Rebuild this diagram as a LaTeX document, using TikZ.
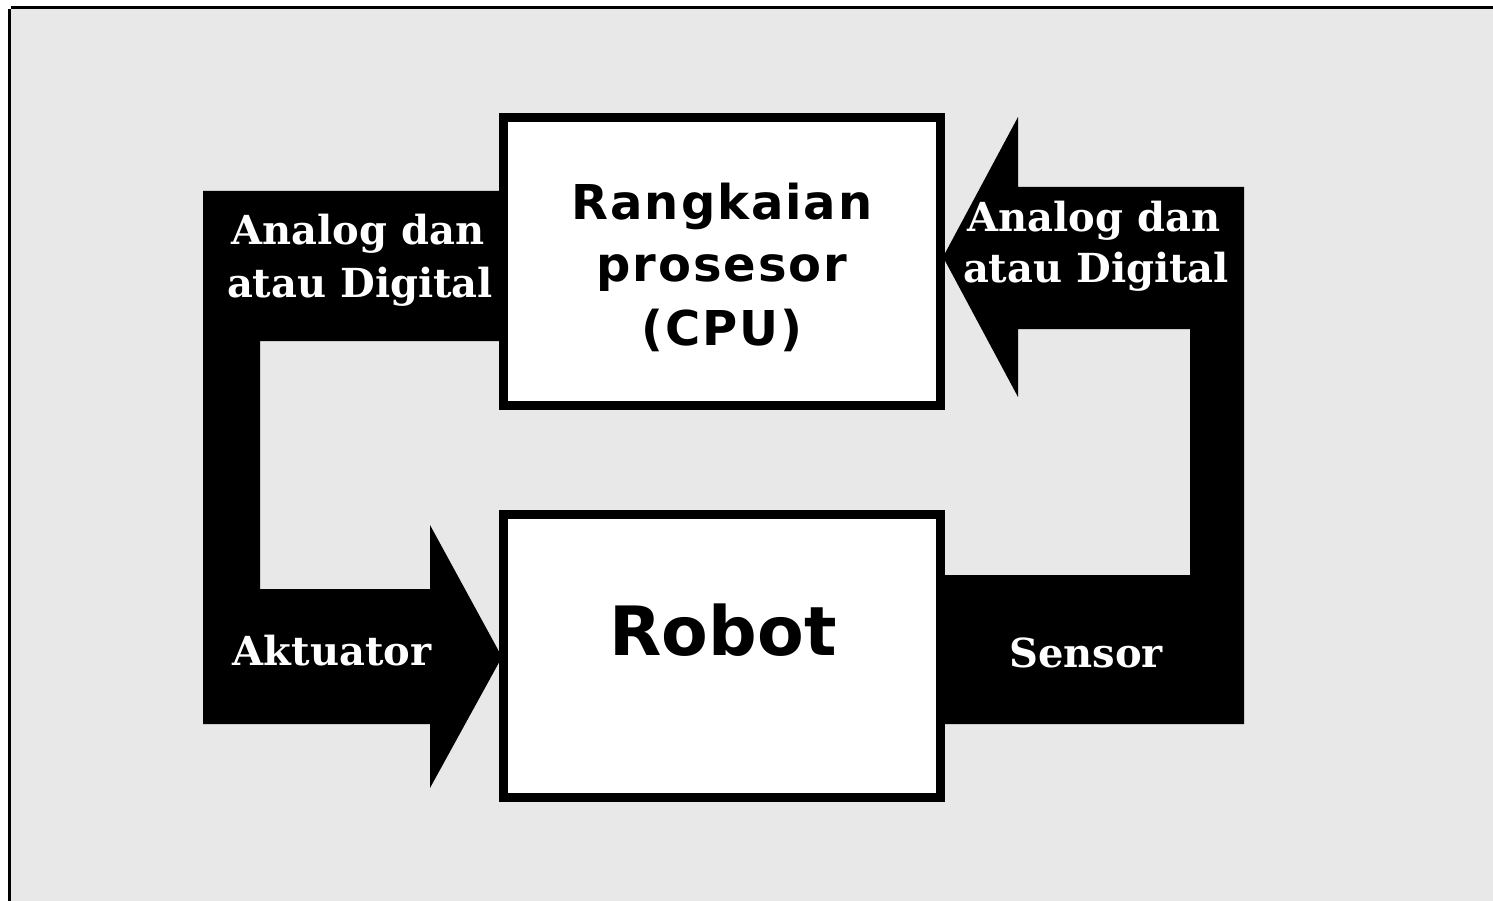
\documentclass[tikz,border=0pt]{standalone}
\usepackage{fontspec}
\newfontfamily\boxfont{DejaVu Sans}
\newfontfamily\tagfont{DejaVu Serif}
\definecolor{panel}{HTML}{E8E8E8}
\begin{document}
\begin{tikzpicture}[x=1pt,y=-1pt,
  flow/.style={fill=black},
  block/.style={draw=black, line width=9pt, fill=white, minimum width=437pt, inner sep=0pt},
  cputext/.style={anchor=base, inner sep=0pt,
    font=\boxfont\bfseries\addfontfeature{LetterSpace=4}\fontsize{48}{58}\selectfont},
  robottext/.style={anchor=base, inner sep=0pt,
    font=\boxfont\bfseries\fontsize{68}{80}\selectfont},
  tag/.style={anchor=base, inner sep=0pt, text=white,
    font=\tagfont\bfseries\fontsize{40}{48}\selectfont}]
  \useasboundingbox (0,0) rectangle (1493,901);
  % panel and its frame
  \fill[panel] (11,9) rectangle (1493,901);
  \fill[black] (11,6) rectangle (1493,9);
  \fill[black] (8,9) rectangle (11,901);

  % actuator path: from the processor down into the robot
  \fill[flow] (203,191) -- (500,191) -- (500,341) -- (260,341) -- (260,589)
    -- (430,589) -- (430,525) -- (502,657) -- (430,788) -- (430,724)
    -- (203,724) -- cycle;
  % sensor path: from the robot back up to the processor
  \fill[flow] (945,575) -- (1190,575) -- (1190,329) -- (1018,329) -- (1018,397)
    -- (943,257) -- (1018,117) -- (1018,187) -- (1244,187) -- (1244,724)
    -- (945,724) -- cycle;

  % blocks
  \node[block, minimum height=288pt] (cpu) at (722,261.5) {};
  \node[block, minimum height=283pt] (robot) at (722,656) {};

  \node[cputext] (cpu1) at (722,220) {Rangkaian};
  \node[cputext] (cpu2) at (722,282) {prosesor};
  \node[cputext] (cpu3) at (722,345) {(CPU)};
  \node[robottext] (robotname) at (723,655) {Robot};

  % signal labels
  \node[tag] (outa) at (358,245) {Analog dan};
  \node[tag] (outb) at (360,297) {atau Digital};
  \node[tag] (ina) at (1094,232) {Analog dan};
  \node[tag] (inb) at (1096,283) {atau Digital};
  \node[tag] (act) at (332,665) {Aktuator};
  \node[tag] (sens) at (1086,667) {Sensor};
\end{tikzpicture}
\end{document}
